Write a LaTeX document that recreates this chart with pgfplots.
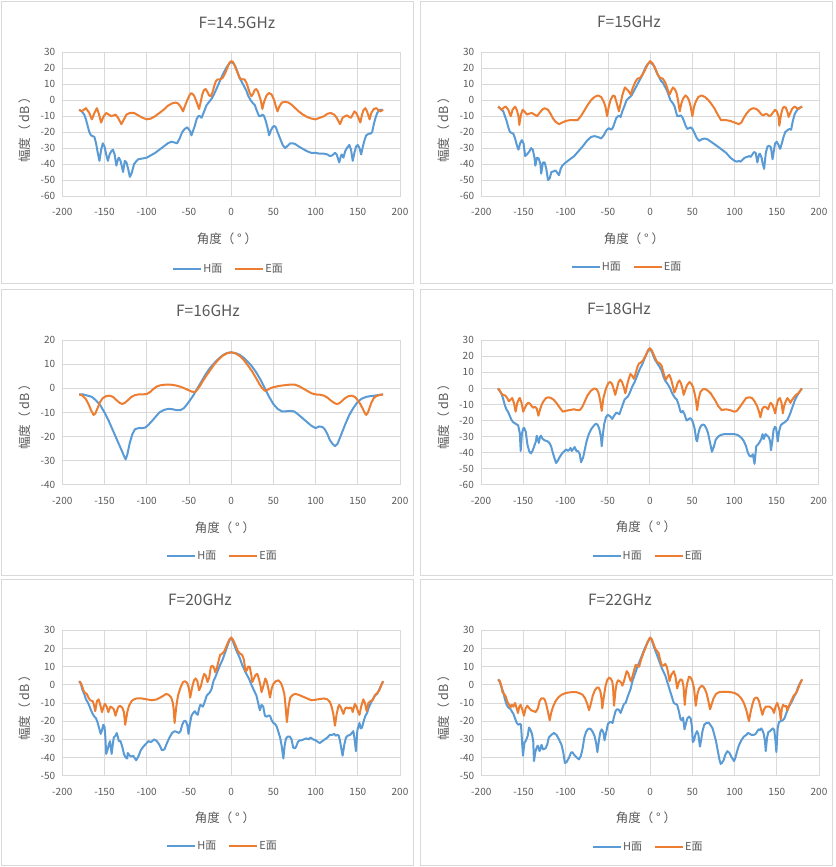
\documentclass[border=0pt]{standalone}
\usepackage{fontspec}
\setmainfont{Noto Sans CJK SC}
\usepackage{pgfplots}
\pgfplotsset{compat=1.18}
\definecolor{hblue}{HTML}{5B9BD5}
\definecolor{eorange}{HTML}{ED7D31}
\definecolor{gridc}{HTML}{D9D9D9}
\definecolor{textc}{HTML}{595959}
\definecolor{boxc}{HTML}{D9D9D9}
\pgfplotsset{panel/.style={
  scale only axis, width=337.7pt, no marks,
  xmin=-200, xmax=200,
  xtick={-200,-150,...,200},
  xticklabels={-200,-150,-100,-50,0,50,100,150,200},
  grid=major, grid style={draw=gridc, line width=0.75pt},
  axis line style={draw=gridc, line width=0.75pt},
  tick style={draw=none}, major tick length=0pt,
  ticklabel style={font=\fontsize{10}{12}\selectfont, text=textc},
  xticklabel style={anchor=center, yshift=-16pt, inner sep=0pt},
  yticklabel style={anchor=east, inner sep=0pt, xshift=-7pt},
  legend columns=2,
  legend style={draw=none, fill=none, anchor=center, inner sep=0pt, nodes={inner xsep=1pt, inner ysep=1pt}, font=\fontsize{11}{13}\selectfont, text=textc, /tikz/every even column/.append style={column sep=11pt}},
  legend image code/.code={\draw[#1] (0pt,0pt) -- (28pt,0pt);},
},
hs/.style={draw=hblue, line width=2pt, line join=round},
es/.style={draw=eorange, line width=2pt, line join=round},
}
\tikzset{ttl/.style={font=\fontsize{15.5}{18}\selectfont, text=textc},
 lbl/.style={font=\fontsize{12.5}{15}\selectfont, text=textc}}
\begin{document}
\begin{tikzpicture}
\useasboundingbox (0,0) rectangle (835pt,867pt);
\draw[boxc, line width=0.75pt] (1.5pt,583.5pt) rectangle (413pt,866pt);
\draw[boxc, line width=0.75pt] (420.5pt,583.5pt) rectangle (832.5pt,866pt);
\draw[boxc, line width=0.75pt] (1.5pt,292pt) rectangle (413pt,577.5pt);
\draw[boxc, line width=0.75pt] (420.5pt,292pt) rectangle (832.5pt,577.5pt);
\draw[boxc, line width=0.75pt] (1.5pt,1.5pt) rectangle (413pt,287.5pt);
\draw[boxc, line width=0.75pt] (420.5pt,1.5pt) rectangle (832.5pt,287.5pt);

% ---------- Panel 1: 14.5 GHz
\begin{axis}[panel, at={(62.3pt,671pt)}, anchor=south west, height=143.7pt,
  ymin=-60, ymax=30, ytick={-60,-50,...,30}, yticklabels={-60,-50,-40,-30,-20,-10,0,10,20,30},
  legend style={at={(0.491,-0.507)}}]
\addplot[hs] coordinates {(-180,-6)(-177,-7)(-174,-9)(-172,-12)(-170,-16)(-168,-20)(-166,-22)(-162,-23)(-160,-27)(-158,-33)(-156,-38)(-154,-31)(-152,-27)(-150,-29)(-148,-34)(-146,-38)(-144,-34)(-142,-32)(-140,-31)(-138,-34)(-136,-41)(-134,-37)(-133,-36)(-131,-38)(-128,-45)(-126,-38)(-124,-39)(-122,-43)(-120,-48)(-118,-46)(-115,-40)(-112,-38)(-110,-37)(-105,-36.5)(-100,-36)(-95,-34.5)(-90,-33)(-85,-31)(-80,-29)(-75,-27)(-71,-26)(-67,-26.5)(-64,-27)(-61,-24)(-58,-20)(-55,-18)(-52,-17)(-49,-19)(-47,-22)(-45,-19)(-43,-16)(-41,-12)(-39,-10)(-37,-10)(-35,-11)(-32,-7)(-29,-3)(-26,-1)(-23,1)(-20,4)(-15,10)(-10,16)(-5,21)(-2,23)(0,24)(3,23)(5,21)(8,17)(10,14)(13,11)(15,9)(18,6)(20,3)(23,0)(26,-2)(28,-3)(30,-6)(33,-10)(35,-10)(37,-9)(39,-10)(41,-13)(43,-17)(45,-22)(47,-19)(49,-17)(51,-16)(53,-17)(55,-20)(58,-24)(61,-28)(64,-30)(67,-28.5)(70,-27)(73,-27)(76,-27.5)(80,-29)(85,-30.5)(90,-32)(95,-33)(100,-33)(105,-33.5)(110,-33.5)(114,-34)(117,-35)(120,-34.5)(123,-33)(125,-34)(128,-39)(130,-35)(131,-34)(133,-36)(135,-32)(137,-30)(140,-28)(142,-31)(144,-38)(146,-33)(148,-29)(150,-28)(152,-30)(154,-34)(156,-29)(158,-25)(160,-22)(163,-21)(165,-21)(167,-20)(169,-15)(171,-11)(173,-8)(176,-6)(178,-6)(180,-6)};
\addlegendentry{H面}
\addplot[es] coordinates {(-180,-6)(-177,-7)(-172,-5)(-168,-8)(-165,-12)(-162,-8)(-159,-5)(-157,-8)(-154,-14)(-151,-10)(-148,-8)(-145,-9)(-142,-10)(-139,-9.5)(-137,-9)(-134,-11)(-130,-15)(-127,-12)(-124,-9)(-120,-8)(-115,-8)(-110,-9.5)(-105,-11)(-100,-12)(-95,-11.5)(-90,-10)(-85,-8)(-80,-6)(-75,-3.5)(-70,-2)(-66,-1.5)(-63,-2)(-60,-4)(-57,-7)(-55,-4)(-52,0)(-49,3.5)(-47,4.5)(-44,3)(-41,-1)(-38,-5.5)(-36,-1)(-34,4)(-32,6.5)(-30,7)(-28,5)(-26,3)(-24,2.5)(-22,5)(-20,9)(-18,12)(-16,13)(-13,13)(-10,14)(-7,17)(-4,21)(-2,23.5)(0,24.5)(2,24)(4,22)(7,18)(10,14)(13,13)(16,13)(18,11)(20,8)(22,4.5)(24,2.5)(26,4)(28,6.5)(30,7)(32,5)(35,0)(37,-5.5)(39,-1)(42,3)(45,4.5)(48,3.5)(51,0)(53,-4)(55,-7)(57,-4)(60,-1.5)(64,-1)(68,-1.5)(72,-3)(76,-5)(80,-7)(85,-9)(90,-10.5)(95,-11.5)(100,-12)(105,-11)(110,-10)(114,-8.5)(118,-8)(122,-9)(125,-11)(129,-15)(132,-11)(135,-10)(137,-9.5)(140,-10.5)(142,-11)(144,-9)(146,-7)(148,-8)(150,-10)(153,-14)(155,-9)(157,-6)(159,-5)(161,-7)(164,-12)(166,-8)(169,-5.5)(172,-5)(175,-6.5)(177,-7)(180,-6)};
\addlegendentry{E面}
\end{axis}

% ---------- Panel 2: 15 GHz
\begin{axis}[panel, at={(481.3pt,671pt)}, anchor=south west, height=143.7pt,
  ymin=-60, ymax=30, ytick={-60,-50,...,30}, yticklabels={-60,-50,-40,-30,-20,-10,0,10,20,30},
  legend style={at={(0.430,-0.493)}}]
\addplot[hs] coordinates {(-180,-4)(-177,-5.5)(-174,-7)(-172,-10)(-170,-13)(-168,-17)(-166,-20)(-164,-20.5)(-162,-21)(-160,-24)(-158,-28)(-156,-31)(-154,-27)(-152,-25)(-150,-27)(-148,-35)(-146,-34)(-143,-32)(-141,-30)(-139,-31)(-137,-36)(-136,-41)(-134,-36)(-132,-36.5)(-130,-40)(-129,-46)(-127,-39)(-125,-39)(-123,-43)(-121,-50)(-119,-49)(-117,-45)(-114,-44.5)(-112,-44)(-110,-45.5)(-108,-47)(-106,-43)(-104,-41)(-100,-39)(-95,-37)(-90,-35)(-85,-32)(-80,-29)(-75,-25.5)(-70,-23)(-66,-22.5)(-62,-23)(-58,-24)(-55,-22)(-52,-19)(-49,-17.5)(-46,-18.5)(-44,-17)(-42,-14)(-40,-11)(-38,-10)(-36,-10)(-35,-10.5)(-33,-7)(-30,-3)(-28,0)(-25,1.5)(-22,3)(-20,5)(-15,10)(-10,15)(-5,21)(-2,23)(0,24)(3,22.5)(5,21)(8,17)(10,15)(13,12)(15,11)(18,8)(20,6)(22,3)(24,0)(27,-2)(29,-4)(31,-8)(32,-10)(34,-10)(36,-9.5)(38,-10.5)(40,-13)(42,-16)(44,-18)(46,-17.5)(48,-17)(50,-18)(52,-20)(55,-23.5)(58,-25.5)(61,-24.5)(64,-24)(68,-24.5)(72,-26)(76,-27.5)(80,-29)(85,-31)(90,-33)(95,-36)(100,-38)(103,-38.5)(105,-38)(107,-38.5)(110,-37)(112,-36)(115,-35.5)(117,-35)(119,-35.5)(121,-34)(123,-32.5)(125,-33)(127,-39)(129,-34)(130,-33.5)(132,-36)(133,-39)(135,-43)(137,-33)(139,-29)(141,-28.5)(143,-29.5)(145,-37)(147,-30)(148,-27)(150,-26)(152,-28)(154,-30.5)(156,-27)(158,-23)(160,-20)(162,-19)(165,-18)(167,-18.5)(169,-13)(171,-9)(173,-7)(176,-5)(178,-4.5)(180,-4)};
\addlegendentry{H面}
\addplot[es] coordinates {(-180,-4)(-178,-5)(-176,-6)(-173,-4.5)(-171,-4)(-168,-6)(-166,-9)(-165,-10)(-163,-6)(-160,-4)(-158,-6)(-156,-10)(-155,-15.5)(-153,-9)(-151,-6)(-149,-7)(-146,-9)(-144,-8.5)(-140,-8)(-137,-9)(-134,-10)(-131,-8)(-128,-6)(-125,-5)(-121,-6)(-118,-8.5)(-115,-11.5)(-112,-13.5)(-108,-15)(-104,-14)(-100,-13)(-95,-12.5)(-90,-12.5)(-86,-12.5)(-82,-10)(-78,-6.5)(-74,-3)(-70,0)(-66,2)(-62,3)(-58,2)(-55,-1)(-53,-4)(-51,-10)(-49,-4)(-47,0)(-44,3)(-42,2.5)(-40,-1)(-37,-7)(-35,-2)(-33,3)(-30,8)(-28,7)(-26,6)(-23,3.5)(-21,7)(-18,11)(-15,13.5)(-12,14)(-9,16)(-6,19)(-3,22.5)(0,24.5)(3,23)(6,20)(9,16)(12,14)(15,13.5)(18,11)(20,8)(22,4.5)(23,3.5)(25,6)(27,8)(29,7)(31,5)(33,0)(35,-7)(37,-2)(39,1)(42,3)(44,2)(46,0)(48,-4)(50,-10)(52,-4)(54,-1)(57,2)(61,3)(65,2)(69,0)(72,-2)(76,-5)(80,-9)(84,-12.5)(90,-12.5)(95,-13)(100,-14)(105,-15)(108,-14)(111,-11)(114,-8.5)(118,-6)(122,-5)(126,-5.5)(129,-7)(132,-9)(134,-9.5)(137,-8.5)(139,-9)(141,-10)(143,-9.5)(145,-8)(148,-6)(150,-7)(152,-10)(153,-16)(155,-9)(157,-5)(159,-4)(161,-5)(163,-8)(164,-10.5)(166,-8)(168,-5.5)(171,-4)(174,-5)(176,-5.5)(178,-4.5)(180,-4)};
\addlegendentry{E面}
\end{axis}

% ---------- Panel 3: 16 GHz
\begin{axis}[panel, at={(62.3pt,382.3pt)}, anchor=south west, height=144.4pt,
  ymin=-40, ymax=20, ytick={-40,-30,...,20}, yticklabels={-40,-30,-20,-10,0,10,20},
  legend style={at={(0.473,-0.494)}}]
\addplot[hs] coordinates {(-180,-2.5)(-175,-2.5)(-170,-3)(-165,-3.5)(-160,-5)(-155,-7)(-150,-10)(-145,-13.5)(-140,-17.5)(-135,-21.5)(-130,-25.5)(-127,-28)(-125,-29.5)(-123,-27.5)(-120,-22.5)(-117,-19)(-114,-17)(-110,-16.5)(-106,-16.5)(-102,-16.3)(-99,-15.5)(-95,-14)(-90,-12)(-85,-10)(-80,-9)(-75,-8.5)(-70,-8.6)(-65,-9)(-60,-9)(-56,-8.2)(-52,-6.5)(-48,-4.5)(-45,-3)(-40,0)(-35,3)(-30,6)(-25,8.5)(-20,10.5)(-15,12.3)(-10,13.8)(-5,14.7)(0,15)(5,14.7)(10,14)(15,12.7)(20,11)(25,9)(30,6.5)(35,3.5)(40,0)(45,-3.5)(50,-6.5)(55,-8.5)(60,-9.5)(65,-9.5)(70,-9.3)(75,-9.6)(80,-11)(85,-12.5)(90,-14)(95,-15.5)(100,-16.5)(104,-15.8)(108,-16)(111,-17)(114,-19)(117,-21.5)(120,-23)(123,-24)(126,-23)(130,-19.5)(135,-15)(140,-11)(145,-8)(150,-5.5)(155,-4.2)(160,-3.5)(165,-3.2)(170,-3)(175,-2.7)(180,-2.5)};
\addlegendentry{H面}
\addplot[es] coordinates {(-180,-2.5)(-176,-3)(-172,-4.5)(-169,-6.5)(-166,-9)(-163,-11)(-161,-10.5)(-158,-8)(-155,-5.5)(-152,-4)(-148,-3.2)(-144,-3)(-140,-3.5)(-136,-4.8)(-132,-6)(-129,-6.5)(-126,-6)(-122,-4.8)(-118,-3.5)(-114,-2.8)(-110,-2.5)(-105,-2.5)(-100,-2.3)(-96,-1.5)(-92,-0.2)(-88,0.8)(-84,1.3)(-80,1.5)(-75,1.6)(-70,1.5)(-65,1.2)(-60,0.7)(-55,0)(-50,-0.8)(-47,-1.3)(-44,-1.5)(-42,-1.2)(-40,-0.5)(-37,1)(-34,2.8)(-30,5)(-25,7.5)(-20,10)(-15,12)(-10,13.6)(-5,14.6)(0,15)(5,14.6)(10,13.5)(15,11.8)(20,9.5)(25,7)(30,4)(34,1.5)(37,0)(40,-1)(43,-0.6)(46,0)(50,0.5)(55,0.9)(60,1.2)(65,1.4)(70,1.6)(75,1.6)(80,1)(85,0)(90,-1)(95,-2)(100,-2.5)(105,-2.6)(110,-3)(114,-3.8)(118,-5)(122,-6)(125,-6.5)(128,-6.2)(131,-5.3)(135,-4)(139,-3.2)(143,-3)(147,-3.6)(150,-5)(153,-6.5)(156,-8.5)(158,-10)(160,-11)(162,-10)(164,-8)(166,-6)(169,-4)(172,-3.2)(176,-2.7)(180,-2.5)};
\addlegendentry{E面}
\end{axis}

% ---------- Panel 4: 18 GHz
\begin{axis}[panel, at={(481pt,382.3pt)}, anchor=south west, height=144.4pt,
  ymin=-60, ymax=30, ytick={-60,-50,...,30}, yticklabels={-60,-50,-40,-30,-20,-10,0,10,20,30},
  legend style={at={(0.493,-0.497)}}]
\addplot[hs] coordinates {(-180,0)(-178,-1.5)(-176,-3)(-174,-6)(-172,-10)(-170,-13)(-168,-14.5)(-166,-17)(-164,-19.5)(-162,-21)(-159,-22)(-156,-23)(-154,-28)(-153,-39)(-151.5,-28)(-150,-25)(-149,-24.5)(-147,-27)(-145,-35)(-143,-39)(-141,-40.5)(-139,-39)(-137,-36)(-135,-33)(-134,-29.5)(-132.5,-32)(-131.5,-34)(-130,-30)(-129,-29.5)(-127,-31.5)(-124,-32.5)(-121,-33)(-119,-34)(-117,-36)(-115,-40)(-113,-43.5)(-111,-46.5)(-109,-45)(-107,-43)(-104,-40.5)(-101,-39)(-99,-38)(-97,-39)(-95,-38)(-94,-37)(-92.5,-39)(-91,-38)(-89,-36.5)(-87,-39)(-85,-39)(-83,-41)(-81.5,-46)(-79,-43)(-77,-38)(-75,-33)(-72,-28)(-69,-25)(-66,-23)(-64,-22)(-62,-22.5)(-60,-25)(-58,-30)(-57,-36)(-55.5,-28)(-54,-22)(-52,-18)(-50,-16.5)(-48,-17)(-46,-18)(-44.5,-19)(-43,-17.5)(-41,-16)(-39.5,-15)(-38,-15.5)(-36,-16)(-34,-13)(-32,-10)(-30,-7)(-28,-6)(-26,-5)(-24,-3)(-21,1)(-18,4)(-15,8)(-12,12)(-9,15)(-6,19)(-3,22.5)(0,25)(3,22)(6,18)(9,15.5)(12,13)(14,11)(16,7.5)(18,5)(20,3.5)(22,2)(24,0)(26,-2.5)(28,-4.5)(30,-6)(32,-7)(34,-10)(36,-14)(37,-15)(39,-14)(41,-16)(43.5,-20)(45,-19.5)(47.5,-18.5)(49,-19)(51,-21)(53,-25)(55,-32)(56,-33)(57.5,-28)(59,-25)(61,-23)(63,-22.5)(65,-23)(67,-25)(69,-28)(71,-33)(73.5,-39.5)(76,-36)(78,-32)(81,-30)(84,-29)(88,-28.5)(92,-28.5)(96,-28.5)(100,-28.5)(104,-29)(108,-30.5)(111,-32.5)(114,-36)(116,-40)(118,-42)(120,-42.5)(122,-41)(124,-47)(126,-36)(128,-35)(130,-33.5)(132,-31.5)(133.5,-28.5)(135,-31.5)(137,-28.5)(139,-29.5)(141,-30.5)(142.5,-33)(143.5,-38.5)(145,-33)(146.5,-26)(148,-24)(149.5,-24.5)(151.5,-33)(153,-27)(155,-23)(157,-22)(160,-21)(163,-19.5)(166,-16)(169,-11.5)(172,-7)(175,-4)(178,-1.5)(180,0)};
\addlegendentry{H面}
\addplot[es] coordinates {(-180,0)(-178,-1)(-176,-3)(-174,-4)(-171,-4.5)(-169,-6)(-167,-8)(-165,-7)(-163,-6)(-161,-9)(-159,-14.5)(-157,-9)(-155,-6.5)(-154,-6)(-152,-9)(-150,-14.5)(-148,-12)(-146,-10)(-144,-9)(-142,-9.5)(-140,-11)(-138,-12)(-136,-11.5)(-134,-12.5)(-132,-17)(-130,-13)(-128,-10)(-126,-8)(-123,-6)(-120,-5.5)(-117,-6)(-114,-7)(-110,-9.5)(-106,-12.5)(-103,-14.5)(-100,-14)(-95,-13.5)(-90,-13)(-86,-13.5)(-83,-13.5)(-80,-11.5)(-77,-8)(-74,-4.5)(-70,-1.5)(-66,0)(-63,-0.5)(-61,-2.5)(-59,-7)(-57,-14)(-55,-6)(-52,0)(-49,3.5)(-47,4)(-45,3)(-43,0)(-41,-4)(-39,0)(-37,4)(-35,5.5)(-33,4)(-31,1)(-29,-3)(-27,2)(-25,6)(-23,9)(-21,8)(-19,6)(-17,9)(-15,13)(-13,15.5)(-11,16)(-8,17.5)(-5,20.5)(-2,24)(0,25)(2,24)(5,20.5)(8,17)(10,16)(12,15.5)(14,14)(16,10)(18,6.5)(19,5.5)(21,7.5)(23,8.5)(25,6)(27,2)(29,-2.5)(31,0)(33,3.5)(35,5)(37,3)(39,-1)(40,-4)(42,-1)(44,2)(47,4)(49,3)(51,1)(53,-3)(54.5,-7)(56,-13.5)(58,-6)(60,-2)(63,-0.5)(66,-0.5)(69,-1.5)(72,-3)(75,-5.5)(78,-8)(81,-11)(85,-13.5)(90,-13)(95,-13.5)(100,-14.5)(103,-14)(106,-12)(110,-9)(114,-6)(118,-5.5)(121,-6)(124,-8)(127,-11)(129,-14)(131,-18)(133,-13)(135,-11.5)(137,-11.5)(139,-12.5)(140,-13)(142,-10)(143,-9)(145,-10)(147,-13)(148.5,-15.5)(150,-11)(152,-7)(154,-6)(156,-9)(157.5,-15.5)(159,-11)(161,-8)(163,-6)(165,-7.5)(166.5,-9)(168,-7.5)(170,-6)(173,-4)(176,-3)(178,-1.5)(180,0)};
\addlegendentry{E面}
\end{axis}

% ---------- Panel 5: 20 GHz
\begin{axis}[panel, at={(62.3pt,91.3pt)}, anchor=south west, height=145.4pt,
  ymin=-50, ymax=30, ytick={-50,-40,...,30}, yticklabels={-50,-40,-30,-20,-10,0,10,20,30},
  legend style={at={(0.473,-0.483)}}]
\addplot[hs] coordinates {(-180,2)(-178,0.5)(-176,-3)(-174,-5)(-172,-8)(-170,-9.5)(-168,-11.5)(-166,-14)(-164,-16)(-162,-17.5)(-160,-18.5)(-158,-21)(-156,-24.5)(-154.5,-27)(-153,-25)(-151.5,-22)(-150,-23)(-149,-29)(-148,-38)(-146.5,-36)(-145,-33)(-143.5,-31)(-142.5,-35)(-141.5,-38)(-140,-32)(-139,-29)(-137,-28)(-135.5,-26.5)(-134,-29)(-133,-31)(-131,-31)(-129,-34)(-127,-38)(-125,-40)(-123,-40.5)(-122.5,-37.5)(-120,-39)(-118,-39.5)(-116,-39)(-114,-40.5)(-112.5,-41.5)(-110,-39.5)(-107,-36)(-104,-34)(-101,-32.5)(-98,-31)(-95,-31.5)(-91,-30)(-88,-31)(-85,-33)(-82,-36)(-79,-35.5)(-76,-32)(-73,-29)(-70,-26.5)(-67,-25.5)(-64,-26)(-62,-26.5)(-60,-25.5)(-58,-22)(-56,-20)(-54,-19.8)(-52,-22)(-50.5,-27)(-49,-22)(-47,-17)(-45,-15.5)(-43,-14.5)(-41,-16)(-39.5,-16.5)(-38,-13)(-36.5,-11)(-35,-11.5)(-33.5,-12)(-31,-9)(-29,-6)(-27,-5)(-25,-4)(-23,-2)(-21,2)(-19,4)(-16,7.5)(-13,11)(-10,14)(-7,18)(-4,22)(-2,24.5)(0,26)(2,24)(4,21.5)(7,18)(10,15)(13,11)(16,8)(18,6)(21,3.5)(24,0)(26,-2)(28,-4)(30,-6)(32,-10)(34,-14)(36,-11)(38,-12)(40,-17)(42,-17.5)(44,-17)(46,-17)(48,-19.5)(50,-21)(52,-21.5)(54,-23)(56,-26)(58,-29)(60,-34)(61.8,-40.5)(63.5,-33)(65,-29.5)(67,-28.5)(69.5,-28.5)(71.5,-30)(73.5,-34.5)(75.5,-35)(77,-34)(79,-31.5)(81,-30.5)(83.5,-30.5)(86,-30)(89,-29.5)(92,-30)(94,-29)(97,-30)(100,-30.5)(103,-31.5)(105,-32)(108,-31)(111,-30)(114,-29)(117,-27.5)(120,-27.5)(122,-27)(124,-28)(126,-27.5)(127.5,-28)(129,-31)(130.5,-35)(132,-39)(134,-33)(136,-29)(138,-28)(141,-27.5)(143,-26.5)(144.7,-25.5)(146,-29)(147.8,-36.5)(149.5,-25)(151,-22.5)(152,-21)(153.5,-24)(155,-23.5)(157,-20)(159,-17)(161,-15.5)(163,-12.5)(165,-10.5)(167,-8.5)(169,-7)(171,-5.5)(173,-5)(175,-3)(177,-1)(180,2)};
\addlegendentry{H面}
\addplot[es] coordinates {(-180,2)(-178,1)(-176,-1.5)(-175,-3)(-173,-4.5)(-171,-5)(-169,-7)(-167,-8.5)(-164,-9)(-162.5,-11)(-161,-14.5)(-159,-9)(-157,-8)(-155,-11)(-153,-15)(-151,-12)(-149.5,-10.5)(-147.5,-12)(-145.5,-15)(-143,-12)(-141,-12.5)(-139,-13.5)(-137,-17)(-134,-12.5)(-132,-11.5)(-129,-12.5)(-127,-15)(-125.5,-22)(-123,-15)(-121,-11.5)(-118,-9)(-115,-8)(-112,-7.5)(-106,-7.5)(-100,-8)(-94,-8.5)(-88,-8)(-82,-6.5)(-77,-5)(-74,-5.5)(-71,-7)(-69,-10)(-68,-14)(-67,-21)(-65,-12)(-63,-6)(-60,-1.5)(-57,1.5)(-55,2)(-52,1)(-50,-2)(-48.5,-7)(-46,-1)(-44,2.5)(-42,3.5)(-40,2)(-38,-3)(-36,-1)(-34,3)(-32,6)(-30,5)(-28,1.5)(-26,4)(-24,10)(-22,10.5)(-20,9)(-19,7)(-17,9)(-15,13)(-13,16.5)(-11,17)(-8,18.5)(-5,22)(-2,25)(0,26)(2,25)(5,22)(8,18.5)(11,17)(13,16.5)(15,14)(17,7.5)(18.5,8)(20,10)(22,10)(24,5)(25,1.5)(27,3.5)(29,5.5)(31,6)(33,3)(35,-1)(36,-4)(38,-1)(40.5,3.5)(42,2)(44,-2)(46,-7)(48,-2)(50,0.5)(53,2)(56,2.5)(59,1)(61,-1.5)(63,-5)(64.5,-12)(66,-20.5)(68,-12)(70,-7)(73,-5.5)(76,-5)(80,-5.5)(85,-6.5)(90,-7.5)(95,-8.5)(100,-8.2)(105,-7.8)(110,-7.5)(114,-8)(117,-9.5)(119,-12)(121,-16)(123,-22.5)(125,-16)(127,-12)(128,-11)(130,-12.5)(133,-16)(135,-13)(137,-12.5)(139,-13)(141,-12.5)(142.5,-12.8)(144,-15)(146.5,-10.5)(148.5,-12)(150.5,-15)(152,-16.5)(154,-12)(156.5,-8)(158.5,-10)(160.5,-14.5)(162.5,-10)(165,-9)(167.5,-8.5)(170,-6)(173,-4.5)(175.5,-3)(177,-1)(180,2)};
\addlegendentry{E面}
\end{axis}

% ---------- Panel 6: 22 GHz
\begin{axis}[panel, at={(481.3pt,91.3pt)}, anchor=south west, height=145.4pt,
  ymin=-50, ymax=30, ytick={-50,-40,...,30}, yticklabels={-50,-40,-30,-20,-10,0,10,20,30},
  legend style={at={(0.493,-0.49)}}]
\addplot[hs] coordinates {(-180,3)(-178,1.5)(-176,-1.5)(-174,-4)(-172,-8)(-170,-11)(-168,-12.5)(-166,-13)(-164,-14.5)(-162,-16)(-160,-18.5)(-158,-21)(-156,-22)(-154,-21.5)(-153,-22)(-151.5,-33)(-150.6,-39)(-149,-32)(-147,-30.5)(-145,-28)(-143.5,-23.5)(-142,-24.5)(-140,-27)(-138.5,-31)(-137.6,-42)(-136,-37)(-134,-34)(-132.9,-33.5)(-131,-36.5)(-128.6,-33)(-127,-35.5)(-124,-35)(-122,-33)(-120,-29)(-117,-27.5)(-114,-26.5)(-111,-27.5)(-108,-30)(-105,-33)(-103,-37)(-101,-43)(-99,-42.5)(-96,-40)(-94,-37.5)(-92.2,-37)(-90,-38.5)(-87,-40)(-84.3,-41)(-82,-39)(-80,-35)(-78,-29)(-76,-26)(-74,-24.5)(-72,-24)(-70,-24.5)(-68,-26)(-66,-28)(-64,-32)(-62.5,-37)(-60.5,-30)(-59,-26)(-57.4,-24.5)(-55.5,-26)(-54,-30.5)(-52,-26)(-50,-21.5)(-48,-20.5)(-46,-20.5)(-44.5,-21)(-43,-18)(-41,-14.5)(-39.5,-13.5)(-37.7,-13.5)(-36,-14.5)(-35,-15.5)(-33,-13)(-31,-10.5)(-29,-10)(-27,-7)(-25,-4.5)(-23,-2)(-21,2)(-18,6)(-15,10)(-12,13.5)(-9,17)(-6,20.5)(-3,23.5)(0,26)(2,24.5)(4,21.5)(6,19)(8,16.5)(10,14)(12,11.5)(14,9)(16,7)(18,5)(20,2)(22,-1)(24,-4)(26,-7)(28,-10)(30,-10.5)(32,-11)(34,-14.5)(36,-19)(37.5,-19.5)(39,-18)(40.7,-24.5)(42.5,-21)(44,-18.5)(46,-17.5)(48,-18.5)(49.5,-23)(50.5,-31.5)(52,-30.5)(53.5,-27.5)(55.5,-25.5)(57,-27)(59,-34)(60.5,-30)(62,-25.5)(64,-22)(66.5,-21)(69.7,-21)(72,-22.5)(74,-24)(76,-27.5)(78,-31)(80,-36)(82,-41)(83.5,-43.5)(85,-43)(87,-41.5)(89,-38.5)(91.4,-36.5)(94,-37.5)(96,-39.5)(98,-41)(99.4,-42)(101,-40)(103,-36.5)(105,-33.5)(108,-30.5)(111,-28.5)(114,-27.5)(116,-26.5)(118,-27)(120,-27.5)(123,-27.5)(125,-27)(127,-25.5)(128.5,-24.5)(130,-25)(131.5,-24)(133,-25)(134.5,-27)(136,-31)(136.9,-36.5)(138.5,-29)(140,-26)(142,-25.5)(144,-24.5)(145.5,-24)(147,-25)(148.5,-31)(149.5,-37)(151,-24)(152.6,-20.5)(154.5,-20)(157,-19.5)(159,-18.5)(161,-16)(163,-13.5)(165,-11.5)(167,-10)(169,-8)(171,-6)(173,-4.5)(175,-1.5)(177,0.5)(180,3)};
\addlegendentry{H面}
\addplot[es] coordinates {(-180,3)(-178,2)(-176,-1)(-175,-4)(-173,-5)(-171,-6.5)(-169,-9.5)(-167,-11)(-165.5,-12.5)(-164,-11)(-162,-12)(-160,-10)(-158,-13)(-156.6,-15.5)(-155,-12)(-153.4,-11)(-151.5,-13.5)(-149.5,-17)(-147.5,-13)(-145.5,-11.5)(-143,-13)(-141,-14)(-138,-14.5)(-135.6,-15)(-133,-13)(-131,-9)(-129,-7.5)(-126,-7.5)(-124.5,-8.5)(-123,-11)(-121,-15)(-119,-19.5)(-117,-15)(-115,-12)(-112,-9)(-109,-7)(-105,-5.5)(-100,-4.5)(-96,-4.2)(-92,-4)(-88,-4)(-84,-4.5)(-80,-5.5)(-77,-7.5)(-74.5,-10.5)(-72.4,-14)(-70,-10)(-68,-6)(-65.5,-3)(-63,-1.5)(-61,-1.5)(-59,-3.5)(-57.5,-8)(-56.7,-13)(-55,-7)(-53,-1)(-51,2.5)(-48.7,4)(-47,3.5)(-45,2)(-44,-1)(-42.8,-11.5)(-41,-3)(-39.5,1)(-38,2.5)(-36,2)(-34,1)(-32.9,-0.5)(-31,2)(-29,5.5)(-27.8,7.5)(-26,6.5)(-24.5,4)(-23,2)(-21,4.5)(-19,8)(-17.2,11)(-15,10.5)(-13,10)(-11,13.5)(-8,17.5)(-5,21)(-2,24.5)(0,26)(2,25)(4,22.5)(6,20)(7.5,19)(10,17.5)(12,13.5)(14,10.5)(15.5,10.5)(18,11.5)(20,9.5)(21.5,6)(23,2)(25,5.5)(28,7.5)(30,4.5)(32,-2)(34,1.5)(36,3)(38,2.5)(39.5,-1)(41,-11)(42.5,-3)(44,1)(46,4.5)(48,4)(50,2)(52,-2)(54,-11.5)(56,-5)(58,-2)(61,-0.5)(63,-1)(65,-2.5)(67,-5)(69,-9)(71,-13.5)(73,-10.5)(75,-7.5)(78,-5)(82,-4)(88,-3.8)(95,-4)(100,-4.5)(104,-5.5)(108,-7.5)(111,-10)(114,-14)(117,-20)(119,-15)(121,-11)(123,-8)(125,-7)(127,-7.2)(129,-9)(131,-13)(133,-16.5)(135,-13.5)(137,-12)(139,-12)(141,-12)(143,-12.5)(145,-13.5)(146.7,-15.5)(148.5,-12)(150.5,-10)(152,-12)(153.5,-14.5)(154.6,-19)(156,-13)(157.5,-11)(159.5,-12)(161,-11.5)(162.5,-14)(164,-12)(166,-10)(168,-8)(170,-6)(172,-5)(174,-3.5)(177,0)(180,3)};
\addlegendentry{E面}
\end{axis}

% titles and labels
\node[ttl] at (237pt,844pt) {F=14.5GHz};
\node[ttl] at (629pt,845pt) {F=15GHz};
\node[ttl] at (208pt,556pt) {F=16GHz};
\node[ttl] at (619pt,558pt) {F=18GHz};
\node[ttl] at (200pt,267pt) {F=20GHz};
\node[ttl] at (620pt,267pt) {F=22GHz};
\node[lbl] at (227pt,628pt) {角度（ ° ）};
\node[lbl] at (634pt,628pt) {角度（ ° ）};
\node[lbl] at (225pt,339pt) {角度（ ° ）};
\node[lbl] at (646pt,340pt) {角度（ ° ）};
\node[lbl] at (225pt,49pt) {角度（ ° ）};
\node[lbl] at (646pt,49pt) {角度（ ° ）};
\node[lbl, rotate=90] at (25pt,740pt) {幅度（ dB ）};
\node[lbl, rotate=90] at (444pt,740pt) {幅度（ dB ）};
\node[lbl, rotate=90] at (25pt,453pt) {幅度（ dB ）};
\node[lbl, rotate=90] at (444pt,453pt) {幅度（ dB ）};
\node[lbl, rotate=90] at (25pt,162pt) {幅度（ dB ）};
\node[lbl, rotate=90] at (444pt,162pt) {幅度（ dB ）};
\end{tikzpicture}
\end{document}
